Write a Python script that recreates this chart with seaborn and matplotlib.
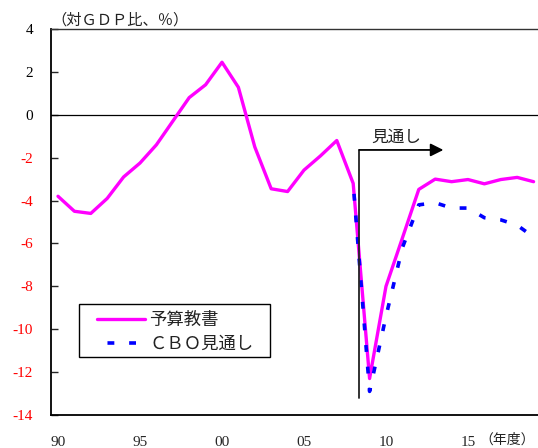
import matplotlib
matplotlib.use("Agg")
import matplotlib.pyplot as plt
from matplotlib.patches import Rectangle
import seaborn as sns
import pandas as pd

# Federal budget balance (% of GDP), fiscal years
budget_years = list(range(1990, 2020))
budget_values = [-3.8, -4.5, -4.6, -3.9, -2.9, -2.25, -1.4, -0.3, 0.8, 1.4,
                 2.45, 1.28, -1.5, -3.45, -3.58, -2.58, -1.92, -1.2, -3.2, -12.3,
                 -8.0, -5.75, -3.48, -3.0, -3.12, -3.02, -3.22, -3.02, -2.92, -3.12]

cbo_years = list(range(2008, 2020))
cbo_values = [-3.2, -12.9, -9.4, -6.2, -4.2, -4.1, -4.35, -4.35, -4.8, -4.9, -5.15, -5.7]

y_ticks = [4, 2, 0, -2, -4, -6, -8, -10, -12, -14]
x_ticks = [1990, 1995, 2000, 2005, 2010, 2015]
x_ticklabels = ["90", "95", "00", "05", "10", "15"]

series_names = ["予算教書", "ＣＢＯ見通し"]
forecast_label = "見通し"
forecast_start = 2008.37
forecast_end = 2013.5

sns.set_style("white")
plt.rcParams["font.family"] = ["Liberation Serif", "Noto Sans CJK JP"]

budget_df = pd.DataFrame({"year": budget_years, "value": budget_values})
cbo_df = pd.DataFrame({"year": cbo_years, "value": cbo_values})

fig = plt.figure(figsize=(5.38, 4.48), dpi=100)
ax = fig.add_axes([51 / 538, 33 / 448, 487 / 538, 386 / 448])

sns.lineplot(data=budget_df, x="year", y="value", ax=ax, color="#FF00FF",
             linewidth=2.4, label=series_names[0])
sns.lineplot(data=cbo_df, x="year", y="value", ax=ax, color="#0000FF",
             linewidth=2.6, linestyle=(3.1, (1.9, 4.1)), label=series_names[1])

ax.axhline(0, color="black", linewidth=0.9, zorder=1)

ax.set_xlim(1989.573, 2019.27)
ax.set_ylim(-14, 4)
ax.set_yticks(y_ticks)
ax.set_yticklabels([str(v) for v in y_ticks])
for lab, v in zip(ax.get_yticklabels(), y_ticks):
    lab.set_color("#FF0000" if v < 0 else "black")
ax.set_xticks(x_ticks)
ax.set_xticklabels(x_ticklabels)
ax.tick_params(axis="y", direction="in", length=5, width=1, pad=13, labelsize=11,
               left=True)
ax.tick_params(axis="x", length=0, pad=15, labelsize=11)
ax.set_xlabel("")
ax.set_ylabel("")

for side in ["left", "bottom"]:
    ax.spines[side].set_color("black")
    ax.spines[side].set_linewidth(1.3)
ax.spines["top"].set_color("#333333")
ax.spines["top"].set_linewidth(1.0)
ax.spines["right"].set_visible(False)

# forecast marker: vertical line with arrow to the right
ax.plot([forecast_start, forecast_start], [-13.2, -1.64], color="#222222",
        linewidth=1.3, zorder=4)
ax.annotate("", xy=(forecast_end, -1.64), xytext=(forecast_start, -1.64),
            arrowprops=dict(arrowstyle="-|>,head_length=0.7,head_width=0.35",
                            color="black", linewidth=1.3, mutation_scale=11,
                            shrinkA=0, shrinkB=0), zorder=4)
ax.text(2009.1, -1.08, forecast_label, ha="left", va="center", fontsize=12,
        color="#222222")

# legend entries without frame, boxed by a separate rectangle
leg = ax.legend(loc="upper left", bbox_to_anchor=(0.0945, 0.2642),
                frameon=False, fontsize=12.5, handlelength=2.75,
                handletextpad=0.25, borderpad=0, labelspacing=0.45,
                borderaxespad=0)
for t in leg.get_texts():
    t.set_color("#222222")
ax.add_patch(Rectangle((0.0575, 0.1503), 0.3922, 0.1373, transform=ax.transAxes,
                       fill=False, edgecolor="black", linewidth=1.0, zorder=5))

fig.text(51 / 538, 1 - 20 / 448, "（対ＧＤＰ比、％）", ha="left", va="center",
         fontsize=11, color="#222222")
fig.text(535 / 538, 1 - 440 / 448, "（年度）", ha="right", va="center",
         fontsize=10, color="#222222")

fig.savefig("out.png", dpi=100)
